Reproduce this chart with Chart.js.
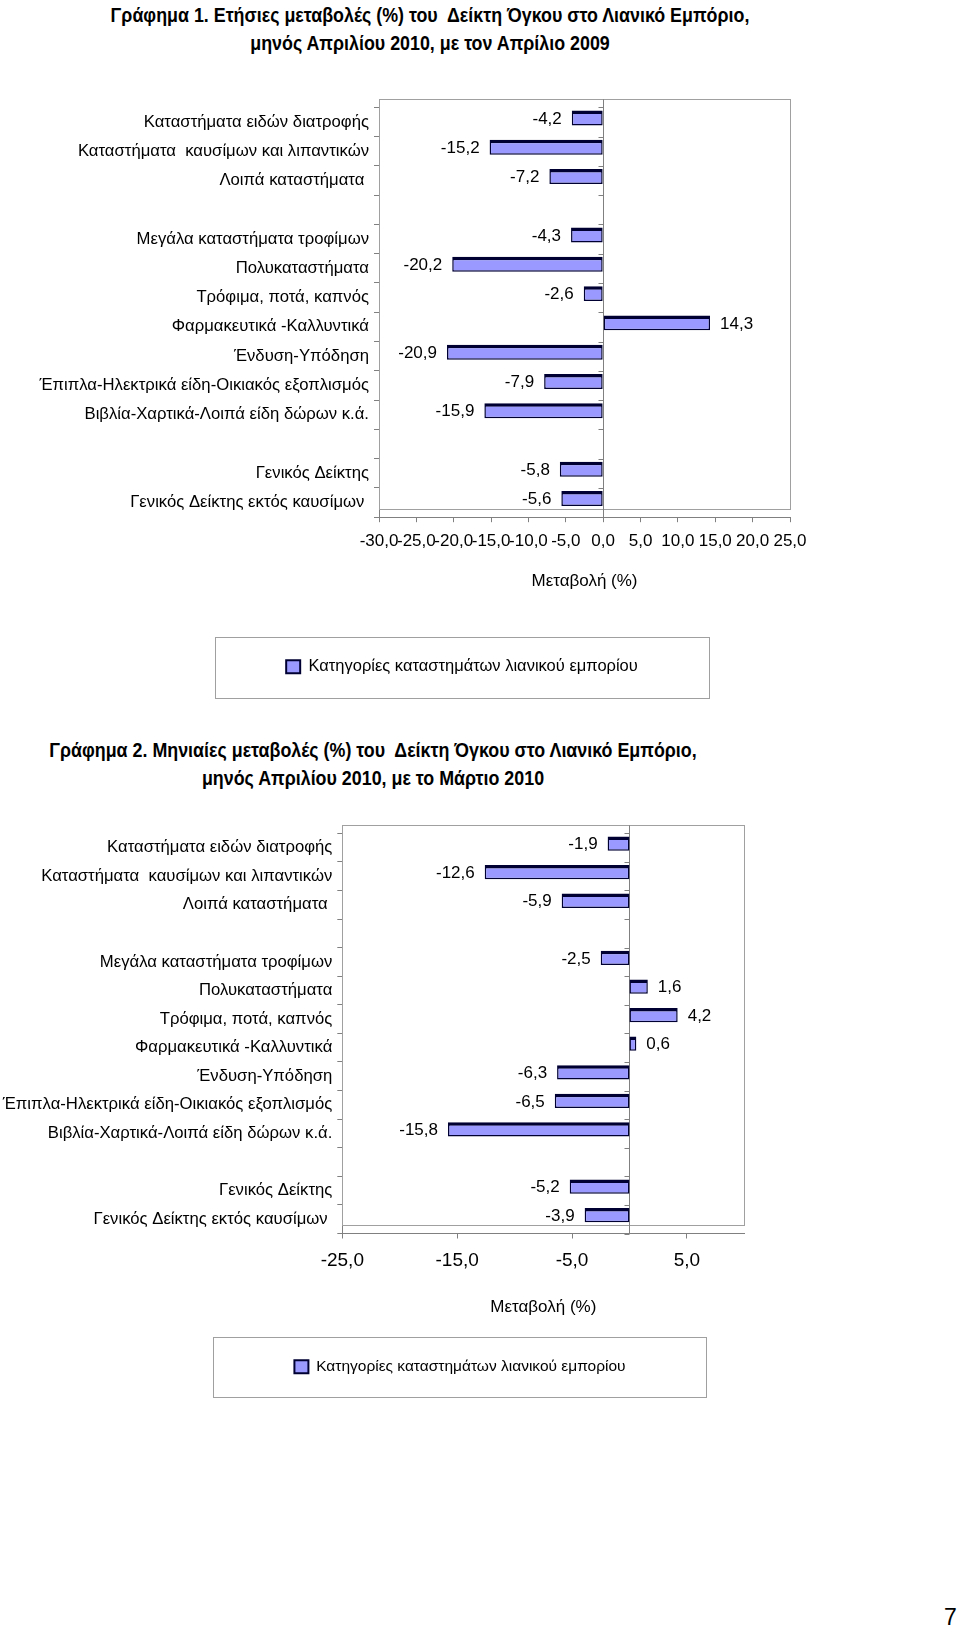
<!DOCTYPE html>
<html lang="el">
<head>
<meta charset="utf-8">
<title>Δείκτης Όγκου στο Λιανικό Εμπόριο - Απρίλιος 2010</title>
<script src="https://cdn.jsdelivr.net/npm/chart.js@4.4.1/dist/chart.umd.min.js"></script>
<style>
  html, body { margin: 0; padding: 0; background: #fff; }
  #page { position: relative; width: 960px; height: 1630px; overflow: hidden; font-family: "Liberation Sans", Arial, sans-serif; color: #000; }
  .ttl { position: absolute; width: 800px; height: 28px; line-height: 28px; text-align: center; white-space: pre;
         font-family: "Liberation Sans", Arial, sans-serif; font-weight: bold; font-size: 21px;
         transform: scaleX(0.85); transform-origin: 50% 50%; }
  canvas { position: absolute; left: 0; }
  #pageno { position: absolute; left: 944px; top: 1604px; font-size: 23px; line-height: 26px; }
</style>
</head>
<body>
<div id="page">
  <div class="ttl" style="left:30px; top:1px;">Γράφημα 1. Ετήσιες μεταβολές (%) του  Δείκτη Όγκου στο Λιανικό Εμπόριο,</div>
  <div class="ttl" style="left:30px; top:29px;">μηνός Απριλίου 2010, με τον Απρίλιο 2009</div>
  <canvas id="annual" width="960" height="615" style="top:90px;"></canvas>

  <div class="ttl" style="left:-27px; top:736px;">Γράφημα 2. Μηνιαίες μεταβολές (%) του  Δείκτη Όγκου στο Λιανικό Εμπόριο,</div>
  <div class="ttl" style="left:-27px; top:764px;">μηνός Απριλίου 2010, με το Μάρτιο 2010</div>
  <canvas id="monthly" width="960" height="590" style="top:815px;"></canvas>

  <div id="pageno">7</div>
</div>

<script>
// Données ------------------------------------------------------
// --------------------------------------------------------------
var categories = [
  'Καταστήματα ειδών διατροφής',
  'Καταστήματα  καυσίμων και λιπαντικών',
  'Λοιπά καταστήματα ',
  '',
  'Μεγάλα καταστήματα τροφίμων',
  'Πολυκαταστήματα',
  'Τρόφιμα, ποτά, καπνός',
  'Φαρμακευτικά -Καλλυντικά',
  'Ένδυση-Υπόδηση',
  'Έπιπλα-Ηλεκτρικά είδη-Οικιακός εξοπλισμός',
  'Βιβλία-Χαρτικά-Λοιπά είδη δώρων κ.ά.',
  '',
  'Γενικός Δείκτης',
  'Γενικός Δείκτης εκτός καυσίμων '
];
var seriesName = 'Κατηγορίες καταστημάτων λιανικού εμπορίου';
var axisTitle = 'Μεταβολή (%)';

// Απρίλιος 2010 / Απρίλιος 2009
var annualChange = [-4.2, -15.2, -7.2, null, -4.3, -20.2, -2.6, 14.3, -20.9, -7.9, -15.9, null, -5.8, -5.6];
var annualTicks = [-30, -25, -20, -15, -10, -5, 0, 5, 10, 15, 20, 25];

// Απρίλιος 2010 / Μάρτιος 2010
var monthlyChange = [-1.9, -12.6, -5.9, null, -2.5, 1.6, 4.2, 0.6, -6.3, -6.5, -15.8, null, -5.2, -3.9];
var monthlyTicks = [-25, -15, -5, 5];

var FONT = '"Liberation Sans", Arial, sans-serif';
Chart.defaults.font.family = FONT;
Chart.defaults.color = '#000';

function fmt(v) { return Number(v).toFixed(1).replace('.', ','); }

// cadre 3D, ligne du zéro, étiquettes, cadre de légende ---------
var decor = {
  id: 'decor',
  afterUpdate: function (chart, args, o) {
    // la légende est centrée sous le graphique, pas sous le canvas
    var lg = chart.legend;
    var dx = o.legendCenter - (lg.left + lg.right) / 2;
    lg.left += dx;
    lg.right += dx;
    lg.legendHitBoxes.forEach(function (h) { h.left += dx; });
  },
  beforeDatasetsDraw: function (chart, args, o) {
    var ctx = chart.ctx, a = chart.chartArea;
    var x0 = Math.round(chart.scales.x.getPixelForValue(0)) + 0.5;
    var n = chart.data.labels.length;
    var slot = (a.bottom - a.top) / n;
    ctx.save();
    ctx.lineWidth = 1;
    ctx.strokeStyle = o.frameColor;
    ctx.strokeRect(Math.round(a.left) + 0.5, Math.round(a.top - o.depth) + 0.5,
                   Math.round(a.right - a.left), Math.round(a.bottom - a.top));
    ctx.strokeStyle = o.axisColor;
    ctx.beginPath();
    ctx.moveTo(x0, a.top - o.depth);
    ctx.lineTo(x0, a.bottom);
    for (var i = 0; i <= n; i++) {
      var yy = Math.round(a.top + i * slot) + 0.5;
      ctx.moveTo(x0 - 5, yy);
      ctx.lineTo(x0, yy);
    }
    ctx.stroke();
    // les barres sont dessinées à mi-profondeur
    ctx.translate(0, -o.depth / 2);
  },
  afterDatasetsDraw: function (chart, args, o) {
    var ctx = chart.ctx;
    ctx.restore();
    var values = chart.data.datasets[0].data;
    var bars = chart.getDatasetMeta(0).data;
    ctx.save();
    ctx.font = o.labelSize + 'px ' + FONT;
    ctx.fillStyle = '#000';
    ctx.textBaseline = 'middle';
    for (var i = 0; i < values.length; i++) {
      if (values[i] === null) continue;
      var b = bars[i];
      var y = b.y - o.depth / 2 + 1;
      if (values[i] < 0) {
        ctx.textAlign = 'right';
        ctx.fillText(fmt(values[i]), b.x - o.labelGap, y);
      } else {
        ctx.textAlign = 'left';
        ctx.fillText(fmt(values[i]), b.x + o.labelGap, y);
      }
    }
    ctx.restore();
  },
  afterDraw: function (chart, args, o) {
    var h = chart.legend.legendHitBoxes[0];
    if (!h) return;
    var ctx = chart.ctx;
    ctx.save();
    ctx.lineWidth = 1;
    ctx.strokeStyle = o.frameColor;
    ctx.strokeRect(Math.round(h.left - o.boxPadX) + 0.5, Math.round(h.top - o.boxPadY) + 0.5,
                   Math.round(h.width + 2 * o.boxPadX), Math.round(h.height + 2 * o.boxPadY));
    ctx.restore();
  }
};

function makeChart(id, values, ticks, s) {
  return new Chart(document.getElementById(id), {
    type: 'bar',
    data: {
      labels: categories,
      datasets: [{
        label: seriesName,
        data: values,
        backgroundColor: '#9999FF',
        borderColor: '#000033',
        borderWidth: { top: 3.5, right: 1.5, bottom: 1.5, left: 1.5 },
        borderSkipped: false,
        barPercentage: s.barPct,
        categoryPercentage: 1
      }]
    },
    options: {
      indexAxis: 'y',
      responsive: false,
      animation: false,
      events: [],
      layout: { padding: s.padding },
      scales: {
        x: {
          type: 'linear',
          min: ticks[0],
          max: s.max,
          afterBuildTicks: function (sc) { sc.ticks = ticks.map(function (v) { return { value: v }; }); },
          afterFit: function (sc) { sc.height = s.xHeight; },
          grid: { drawOnChartArea: false, tickLength: 5, color: '#808080' },
          border: { color: '#808080' },
          ticks: {
            color: '#000', font: { size: s.tickSize }, padding: s.tickPad,
            autoSkip: false, maxRotation: 0, minRotation: 0,
            callback: function (v) { return fmt(v); }
          },
          title: {
            display: true, text: axisTitle, color: '#000',
            font: { size: 17 }, padding: { top: 0, bottom: s.titlePad }
          }
        },
        y: {
          afterFit: function (sc) { sc.width = s.yWidth; },
          grid: { drawOnChartArea: false, tickLength: 5, color: '#808080' },
          border: { color: '#808080' },
          ticks: { color: '#000', font: { size: 16.7 }, padding: 5, autoSkip: false }
        }
      },
      plugins: {
        tooltip: { enabled: false },
        legend: {
          position: 'bottom',
          labels: { color: '#000', font: { size: s.legendSize }, boxWidth: 14, boxHeight: 13, padding: 10 }
        },
        decor: {
          depth: 8, frameColor: '#a0a0a0', axisColor: '#808080',
          labelSize: 17, labelGap: 10, boxPadX: s.boxPadX, boxPadY: 22,
          legendCenter: s.legendCenter
        }
      }
    },
    plugins: [decor]
  });
}

// Γράφημα 1 -----------------------------------------------------
makeChart('annual', annualChange, annualTicks, {
  max: 25, barPct: 0.51,
  padding: { left: 0, right: 170, top: 17.3, bottom: 20 },
  yWidth: 379, xHeight: 131.3,
  tickSize: 17, tickPad: 9, titlePad: 57,
  legendSize: 16.5, boxPadX: 71, legendCenter: 462
});

// Γράφημα 2 -----------------------------------------------------
makeChart('monthly', monthlyChange, monthlyTicks, {
  max: 10, barPct: 0.5,
  padding: { left: 0, right: 215.7, top: 18.3, bottom: 20.5 },
  yWidth: 342.3, xHeight: 115.5,
  tickSize: 19, tickPad: 11, titlePad: 31,
  legendSize: 15.5, boxPadX: 81, legendCenter: 460
});
</script>
</body>
</html>
